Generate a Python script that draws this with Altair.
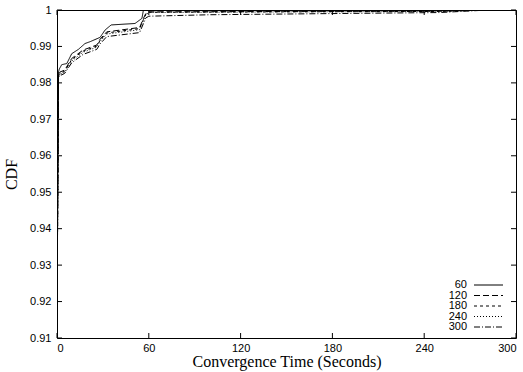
import altair as alt
import pandas as pd

# ---- data ----
series_names = ["60", "120", "180", "240", "300"]

t_60 = [0, 1, 1.5, 3.1, 6.4, 9.6, 14, 18.3, 21.6, 28.2, 31.4, 35.4, 51, 55.5, 56.5, 300]
c_60 = [0.916, 0.983, 0.9838, 0.985, 0.9853, 0.988, 0.9892, 0.9908, 0.9913, 0.9925, 0.9945, 0.9959, 0.9963, 0.9977, 1.0, 1.0]

t_120 = [0, 1, 2, 5, 9.6, 17, 26, 28.2, 32.5, 54, 56.5, 58, 60, 150, 250, 282, 300]
c_120 = [0.916, 0.9822, 0.9830, 0.9835, 0.9867, 0.989, 0.9904, 0.992, 0.994, 0.9952, 0.9977, 0.999, 0.9995, 0.9996, 0.9997, 1.0, 1.0]

t_180 = [0, 1, 2, 5, 9.6, 17, 26, 28.2, 32.5, 54, 56.5, 58, 60, 150, 250, 282, 300]
c_180 = [0.916, 0.9820, 0.9827, 0.9832, 0.9864, 0.9887, 0.9901, 0.9917, 0.9937, 0.9949, 0.9974, 0.9988, 0.9994, 0.9995, 0.9996, 1.0, 1.0]

t_240 = [0, 1, 2, 5, 9.6, 17, 26, 28.2, 32.5, 54, 56.5, 58, 60, 150, 250, 282, 300]
c_240 = [0.916, 0.9818, 0.9824, 0.9829, 0.9860, 0.9884, 0.9898, 0.9914, 0.9934, 0.9946, 0.9972, 0.9986, 0.9993, 0.9995, 0.9996, 1.0, 1.0]

t_300 = [0, 1, 2, 5, 9.6, 17, 26, 28.2, 32.5, 54, 56.5, 58, 60, 100, 200, 250, 282, 300]
c_300 = [0.916, 0.9815, 0.9820, 0.9826, 0.9855, 0.9878, 0.9892, 0.9907, 0.9927, 0.9938, 0.9963, 0.9978, 0.9983, 0.9987, 0.9991, 0.9993, 1.0, 1.0]

x_ticks = [0, 60, 120, 180, 240, 300]
y_ticks = [0.91, 0.92, 0.93, 0.94, 0.95, 0.96, 0.97, 0.98, 0.99, 1.0]

dashes = {"60": [1, 0], "120": [6, 3], "180": [3, 3], "240": [1, 2], "300": [6, 2, 1, 2]}

times = {"60": t_60, "120": t_120, "180": t_180, "240": t_240, "300": t_300}
cdfs = {"60": c_60, "120": c_120, "180": c_180, "240": c_240, "300": c_300}

W, H = 459, 328
xs = alt.Scale(domain=[0, 300], nice=False, zero=False)
ys = alt.Scale(domain=[0.91, 1.0], nice=False, zero=False)

x_axis = alt.Axis(values=x_ticks, tickSize=0, domain=False, grid=False, labelOverlap=False,
                  labelFont="Liberation Sans", labelFontSize=11, labelColor="black",
                  labelPadding=4, title="Convergence Time (Seconds)",
                  titleFont="Liberation Serif", titleFontSize=16, titleFontWeight="normal",
                  titleColor="black", titlePadding=0)
y_axis = alt.Axis(values=y_ticks, format=".2~f", tickSize=0, domain=False, grid=False,
                  labelOverlap=False, labelFlush=False,
                  labelFont="Liberation Sans", labelFontSize=11, labelColor="black",
                  labelPadding=6, title="CDF",
                  titleFont="Liberation Serif", titleFontSize=16, titleFontWeight="normal",
                  titleColor="black", titlePadding=10)

layers = []
for i, name in enumerate(series_names):
    df = pd.DataFrame({"t": times[name], "cdf": cdfs[name], "series": name})
    layers.append(
        alt.Chart(df).mark_line(color="black", strokeWidth=1, strokeDash=dashes[name], clip=True).encode(
            x=alt.X("t:Q", scale=xs, axis=x_axis),
            y=alt.Y("cdf:Q", scale=ys, axis=y_axis),
            order=alt.Order("t:Q"),
        )
    )

# inward ticks (gnuplot style, mirrored)
ydf = pd.DataFrame({"v": y_ticks})
xdf = pd.DataFrame({"v": x_ticks})
tick_style = dict(color="black", strokeWidth=1)
layers.append(alt.Chart(ydf).mark_rule(**tick_style).encode(y=alt.Y("v:Q", scale=ys, axis=y_axis), x=alt.value(0), x2=alt.value(5)))
layers.append(alt.Chart(ydf).mark_rule(**tick_style).encode(y=alt.Y("v:Q", scale=ys, axis=y_axis), x=alt.value(W), x2=alt.value(W - 5)))
layers.append(alt.Chart(xdf).mark_rule(**tick_style).encode(x=alt.X("v:Q", scale=xs, axis=x_axis), y=alt.value(H), y2=alt.value(H - 5)))
layers.append(alt.Chart(xdf).mark_rule(**tick_style).encode(x=alt.X("v:Q", scale=xs, axis=x_axis), y=alt.value(0), y2=alt.value(5)))

# legend (gnuplot style: label then line sample)
leg_y0, leg_dy = 275, 10.5
for i, name in enumerate(series_names):
    yy = leg_y0 + i * leg_dy
    ldf = pd.DataFrame({"label": [name]})
    layers.append(alt.Chart(ldf).mark_text(align="right", baseline="middle", font="Liberation Sans",
                                           fontSize=11, color="black").encode(
        text="label:N", x=alt.value(410), y=alt.value(yy)))
    layers.append(alt.Chart(ldf).mark_rule(color="black", strokeWidth=1, strokeDash=dashes[name]).encode(
        x=alt.value(417), x2=alt.value(446), y=alt.value(yy)))

chart = alt.layer(*layers).properties(
    width=W, height=H,
    autosize=alt.AutoSizeParams(type="none"),
    padding={"left": 57, "top": 10, "right": 7, "bottom": 34},
    background="white",
).configure_view(stroke="black", strokeWidth=1)

chart.save("out.html", embed_options={"renderer": "svg", "actions": False})
